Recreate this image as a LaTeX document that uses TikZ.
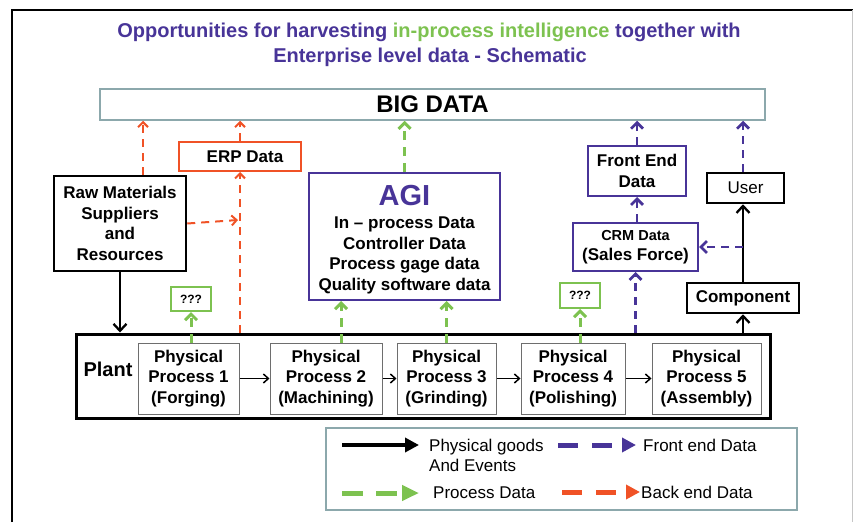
\documentclass[tikz,border=0pt]{standalone}
\usepackage{fontspec}
\setmainfont{Liberation Sans}
\usetikzlibrary{arrows.meta,calc}
\definecolor{purpleC}{RGB}{72,52,152}
\definecolor{greenC}{RGB}{125,194,80}
\definecolor{redC}{RGB}{240,82,38}
\definecolor{tealC}{RGB}{140,168,172}
\definecolor{grayC}{RGB}{110,110,110}
\begin{document}
\begin{tikzpicture}[x=1pt,y=-1pt,
  txt/.style={font=\fontsize{17}{20.5}\selectfont\bfseries, align=center, inner sep=0pt},
  box/.style={txt, draw, line width=2pt},
  blkbox/.style={box, draw=black, line width=2.5pt},
  redbox/.style={box, draw=redC},
  purbox/.style={box, draw=purpleC},
  grnbox/.style={box, draw=greenC, font=\fontsize{12}{14}\selectfont\bfseries},
  procbox/.style={txt, draw=grayC, line width=1pt, fill=white},
  barb/.style={-{Straight Barb[length=5pt,width=10pt]}},
  bigbarb/.style={-{Straight Barb[length=6pt,width=12pt]}},
  reddash/.style={draw=redC, line width=2pt, dash pattern=on 8pt off 6pt, barb},
  greendash/.style={draw=greenC, line width=3pt, dash pattern=on 9pt off 7pt, bigbarb},
  purpledash/.style={draw=purpleC, line width=2.7pt, dash pattern=on 8pt off 6pt, bigbarb},
  blkarrow/.style={draw=black, line width=2.3pt, -{Straight Barb[length=7pt,width=13pt]}},
  procarrow/.style={draw=black, line width=1.5pt, -{Straight Barb[length=5pt,width=9pt]}},
  legtxt/.style={font=\fontsize{17}{20}\selectfont, anchor=west, inner sep=0pt, align=left},
  title/.style={font=\fontsize{20}{25}\selectfont\bfseries, anchor=base, inner sep=0pt}
]
\useasboundingbox (0,0) rectangle (853,522);
% frame
\draw[line width=1.5pt] (12,522) -- (12,10) -- (853,10);
\draw[gray!45, line width=1pt] (852,10) -- (852,522);

% title
\node[title, text=purpleC] (t1) at (429,37) {Opportunities for harvesting \textcolor{greenC}{in-process intelligence} together with};
\node[title, text=purpleC] (t2) at (430,62) {Enterprise level data - Schematic};

% big data
\node[txt, draw=tealC, line width=1.5pt, minimum width=665pt, minimum height=31pt,
      font=\fontsize{24}{26}\selectfont\bfseries] (big) at (432.5,104.5) {BIG DATA};

% boxes
\node[redbox, minimum width=122pt, minimum height=29pt] (erp) at (240,156.5) {\hspace*{10pt}ERP Data};
\node[blkbox, minimum width=132pt, minimum height=95pt] (raw) at (120,223.5) {Raw Materials\\Suppliers\\and\\Resources};
\node[grnbox, minimum width=40pt, minimum height=24pt] (q1) at (191,299) {???};
\node[purbox, minimum width=191pt, minimum height=127pt] (agi) at (404.5,236.5) {};
\node[txt, anchor=base, text=purpleC, font=\fontsize{29}{30}\selectfont\bfseries] (agit) at (404.5,205) {AGI};
\node[txt, anchor=base] (agil) at (404.5,290) {In \textendash{} process Data\\Controller Data\\Process gage data\\Quality software data};
\node[purbox, minimum width=98pt, minimum height=50pt] (fe) at (637,171) {Front End\\Data};
\node[purbox, minimum width=125pt, minimum height=48pt] (crm) at (635.5,247) {{\fontsize{14.5}{17}\selectfont CRM Data}\\(Sales Force)};
\node[blkbox, minimum width=77pt, minimum height=30pt, font=\fontsize{17}{20}\selectfont] (user) at (745.5,188) {User};
\node[blkbox, minimum width=112pt, minimum height=30pt] (comp) at (743,298) {Component};
\node[grnbox, minimum width=40pt, minimum height=25pt] (q2) at (580,295.5) {???};

% plant
\node[draw=black, line width=3pt, minimum width=694pt, minimum height=84pt, inner sep=0pt] (plant) at (423,376) {};
\node[txt, font=\fontsize{20}{22}\selectfont\bfseries] (plabel) at (108,369) {Plant};
\node[procbox, minimum width=101pt, minimum height=71pt] (p1) at (188.5,378.5) {Physical\\Process 1\\(Forging)};
\node[procbox, minimum width=112pt, minimum height=71pt] (p2) at (326,378.5) {Physical\\Process 2\\(Machining)};
\node[procbox, minimum width=99pt, minimum height=71pt] (p3) at (446.5,378.5) {Physical\\Process 3\\(Grinding)};
\node[procbox, minimum width=104pt, minimum height=71pt] (p4) at (573,378.5) {Physical\\Process 4\\(Polishing)};
\node[procbox, minimum width=109pt, minimum height=71pt] (p5) at (706.5,378.5) {Physical\\Process 5\\(Assembly)};

\draw[procarrow] (p1.east) -- (p2.west);
\draw[procarrow] (p2.east) -- (p3.west);
\draw[procarrow] (p3.east) -- (p4.west);
\draw[procarrow] (p4.east) -- (p5.west);

% red connectors
\draw[reddash] ([xshift=23pt]raw.north) -- ([xshift=23pt]raw.north |- big.south);
\draw[reddash] (erp.north) -- (erp.north |- big.south);
\draw[reddash] (erp.south |- plant.north) -- (erp.south);
\coordinate (rj) at (238,220);
\draw[reddash] (raw.east) -- (rj);

% black connectors
\draw[blkarrow] (raw.south) -- (raw.south |- plant.north);
\draw[blkarrow] (comp.south |- plant.north) -- (comp.south);
\draw[blkarrow] (comp.north) -- (comp.north |- user.south);

% green connectors
\draw[greendash] (q1.south |- p1.north) -- (q1.south);
\draw[greendash] (agi.north) -- (agi.north |- big.south);
\draw[greendash] ([xshift=15pt]p2.north) -- ([xshift=15pt]p2.north |- agi.south);
\draw[greendash] (p3.north) -- (p3.north |- agi.south);
\draw[greendash] (q2.south |- p4.north) -- (q2.south);

% purple connectors
\draw[purpledash] (fe.north) -- (fe.north |- big.south);
\draw[purpledash] (fe.south |- crm.north) -- (fe.south);
\draw[purpledash] (crm.south |- plant.north) -- (crm.south);
\draw[purpledash] (comp.north |- user.north) -- (comp.north |- big.south);
\coordinate (cj) at (comp.north |- crm.east);
\draw[purpledash] (cj) -- (crm.east);

% legend
\node[draw=tealC, line width=2.5pt, minimum width=471pt, minimum height=82pt, inner sep=0pt] (legend) at (561.5,469) {};
\coordinate (l1a) at (342,445); \coordinate (l1b) at (419,445);
\coordinate (l2a) at (342,493); \coordinate (l2b) at (419,493);
\coordinate (l3a) at (558,445); \coordinate (l3b) at (636,445);
\coordinate (l4a) at (562,492); \coordinate (l4b) at (640,492);
\draw[line width=4.5pt, -{Triangle[length=14pt,width=14pt]}] (l1a) -- (l1b);
\draw[greenC, line width=5pt, dash pattern=on 21pt off 13pt, -{Triangle[length=17pt,width=15pt]}] (l2a) -- (l2b);
\draw[purpleC, line width=5pt, dash pattern=on 20pt off 14pt, -{Triangle[length=14pt,width=14pt]}] (l3a) -- (l3b);
\draw[redC, line width=5pt, dash pattern=on 20pt off 14pt, -{Triangle[length=14pt,width=14pt]}] (l4a) -- (l4b);
\node[legtxt, anchor=base west] (lt1) at (429,471) {Physical goods\\And Events};
\node[legtxt] (lt2) at (433,493) {Process Data};
\node[legtxt] (lt3) at (643,445) {Front end Data};
\node[legtxt] (lt4) at (641,492) {Back end Data};
\end{tikzpicture}
\end{document}
